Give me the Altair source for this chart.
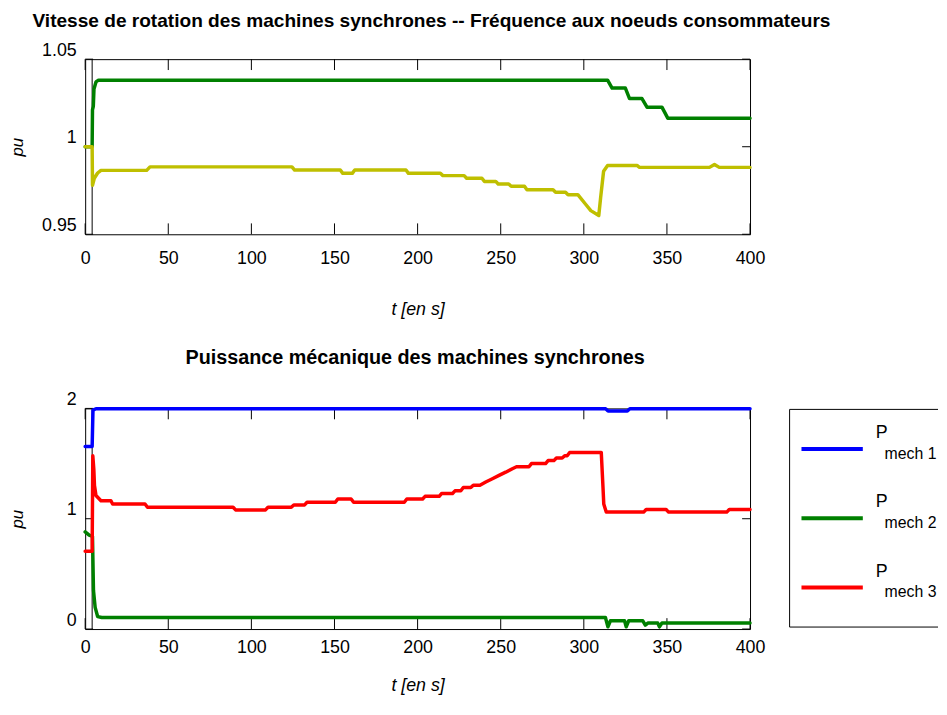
import altair as alt
import pandas as pd

POLICE = "Liberation Sans"

# ---------------- Textes ----------------
titre_haut = "Vitesse de rotation des machines synchrones -- Fréquence aux noeuds consommateurs"
titre_bas = "Puissance mécanique des machines synchrones"
titre_x = "t   [en s]"
titre_y = "pu"

# ---------------- Graduations ----------------
graduations_x = [0, 50, 100, 150, 200, 250, 300, 350, 400]
graduations_y_haut = [0.95, 1, 1.05]
graduations_y_bas = [0, 1, 2]
instant_defaut = [4.2]

# ---------------- Graphique du haut (pu) ----------------
t_vitesse = [0, 4.2, 4.4, 4.9, 5.3, 6.5, 8, 314.3, 317, 325, 327.5, 335, 338, 347, 350.5, 400]
vitesse = [1.0, 1.0, 1.021, 1.023, 1.033, 1.037, 1.038, 1.038, 1.0335, 1.0335, 1.0275, 1.0275,
           1.0226, 1.0226, 1.0163, 1.0163]

t_frequence = [0, 4.2, 4.4, 5.5, 7.5, 9.5, 37, 39, 124.4, 126, 153.5, 155, 160.7, 162.2, 193, 194.5,
               213.7, 215.2, 228, 229.5, 238.7, 240.2, 247, 248.5, 254.8, 256.3, 264.3, 265.8,
               281.5, 283, 289, 290.5, 296.4, 301.2, 304.2, 309, 310.1, 311.9, 314.3, 332, 333.5,
               375.6, 378.6, 381.5, 400]
frequence = [1.0, 1.0, 0.978, 0.982, 0.985, 0.9865, 0.9865, 0.9885, 0.9885, 0.9867, 0.9867, 0.9848,
             0.9848, 0.9867, 0.9867, 0.9848, 0.9848, 0.9835, 0.9835, 0.982, 0.982, 0.9802, 0.9802,
             0.9787, 0.9787, 0.9774, 0.9774, 0.9754, 0.9754, 0.974, 0.974, 0.9726, 0.9726, 0.967,
             0.9635, 0.9607, 0.9708, 0.986, 0.9893, 0.9893, 0.9882, 0.9882, 0.9899, 0.9882, 0.9882]

# ---------------- Graphique du bas (pu) ----------------
t_p1 = [0, 4.2, 4.7, 6.5, 313.1, 314.6, 326.2, 327.7, 400]
p1 = [1.655, 1.655, 1.985, 1.997, 1.997, 1.976, 1.976, 1.997, 1.997]

t_p2 = [0, 2.4, 4.4, 5.0, 6.0, 7.5, 10, 313, 314.5, 316, 324.5, 325.5, 327, 335.5, 337, 338.5,
        344.5, 345.5, 347, 400]
p2 = [0.881, 0.851, 0.84, 0.35, 0.196, 0.113, 0.105, 0.105, 0.02, 0.075, 0.075, 0.02, 0.075,
      0.075, 0.036, 0.054, 0.054, 0.02, 0.054, 0.054]

t_p3 = [0, 4.2, 4.6, 5.2, 5.6, 6.5, 9.5, 15.5, 16.5, 36, 37.5, 89, 90.5, 108.5, 110, 124, 125.5,
        132, 133.5, 150.5, 152, 160, 161.5, 192, 193.5, 203, 204.5, 213, 214.5, 221, 222.5, 226,
        227.5, 232, 233.5, 237.5, 241, 245, 249, 253, 257, 259.5, 267, 268.5, 277, 278.5, 282,
        283.5, 287, 288.5, 290, 291.5, 310.5, 311.5, 312, 313.5, 336, 337.5, 349.5, 351, 386,
        387.5, 400]
p3 = [0.705, 0.705, 1.57, 1.45, 1.30, 1.21, 1.163, 1.163, 1.134, 1.134, 1.104, 1.104, 1.080, 1.080,
      1.104, 1.104, 1.125, 1.125, 1.149, 1.149, 1.179, 1.179, 1.149, 1.149, 1.179, 1.179, 1.203,
      1.203, 1.229, 1.229, 1.253, 1.253, 1.283, 1.283, 1.304, 1.304, 1.333, 1.363, 1.393, 1.422,
      1.453, 1.471, 1.471, 1.5, 1.5, 1.527, 1.527, 1.551, 1.551, 1.571, 1.571, 1.601, 1.601,
      1.297, 1.134, 1.06, 1.06, 1.083, 1.083, 1.06, 1.06, 1.083, 1.083]

series_bas = ["P mech 1", "P mech 2", "P mech 3"]
indices_bas = ["mech 1", "mech 2", "mech 3"]
couleurs_bas = ["#0000FF", "#008000", "#FF0000"]
couleur_vitesse = "#008000"
couleur_frequence = "#BFBF00"

# ---------------- Mise en page ----------------
W = 672
H_HAUT = 177
H_BAS = 223
TICK_X = 11
TICK_Y = 8

echelle_x = alt.Scale(domain=[0, 400], nice=False, zero=False)


def axe_x(label_pad, title_pad):
    return alt.Axis(values=graduations_x, format="~f", title=titre_x, ticks=False, domain=False,
                    grid=False, labelPadding=label_pad, titlePadding=title_pad, labelFlush=False,
                    labelOverlap=False, labelFontSize=18, titleFontSize=18,
                    titleFontStyle="italic", titleFontWeight="normal", labelColor="black",
                    titleColor="black", labelFont=POLICE, titleFont=POLICE)


def axe_y(valeurs, title_pad):
    return alt.Axis(values=valeurs, format="~f", title=titre_y, ticks=False, domain=False,
                    grid=False, labelPadding=9, labelOffset=-9, titlePadding=title_pad,
                    labelFlush=False, labelOverlap=False, labelFontSize=18, titleFontSize=17,
                    titleFontStyle="italic", titleFontWeight="normal", labelColor="black",
                    titleColor="black", labelFont=POLICE, titleFont=POLICE)


def panneau(courbes, grad_y, domaine_y, hauteur, ax_x, ax_y):
    ey = alt.Scale(domain=domaine_y, nice=False, zero=False)
    X = alt.X("t:Q", scale=echelle_x, axis=ax_x)
    Y = alt.Y("v:Q", scale=ey, axis=ax_y)
    couches = []
    # ligne verticale de l'instant du défaut
    couches.append(alt.Chart(pd.DataFrame({"t": instant_defaut})).mark_rule(
        color="black", strokeWidth=1).encode(x=X))
    # graduations intérieures (style MATLAB)
    dgx = pd.DataFrame({"t": graduations_x})
    couches.append(alt.Chart(dgx).mark_rule(color="black", strokeWidth=1).encode(
        x=X, y=alt.value(0), y2=alt.value(TICK_X)))
    couches.append(alt.Chart(dgx).mark_rule(color="black", strokeWidth=1).encode(
        x=X, y=alt.value(hauteur - TICK_X), y2=alt.value(hauteur)))
    dgy = pd.DataFrame({"v": grad_y})
    couches.append(alt.Chart(dgy).mark_rule(color="black", strokeWidth=1).encode(
        y=Y, x=alt.value(0), x2=alt.value(TICK_Y)))
    couches.append(alt.Chart(dgy).mark_rule(color="black", strokeWidth=1).encode(
        y=Y, x=alt.value(W - TICK_Y), x2=alt.value(W)))
    for tt, vv, coul in courbes:
        df = pd.DataFrame({"t": tt, "v": vv, "i": list(range(len(tt)))})
        couches.append(alt.Chart(df).mark_line(color=coul, strokeWidth=3.5,
                                               strokeJoin="round", strokeCap="round").encode(
            x=X, y=Y, order=alt.Order("i:Q")))
    return alt.layer(*couches)


haut = panneau([(t_vitesse, vitesse, couleur_vitesse),
                (t_frequence, frequence, couleur_frequence)],
               graduations_y_haut, [0.95, 1.05], H_HAUT,
               axe_x(16, 33), axe_y(graduations_y_haut, 15)).properties(
    width=W, height=H_HAUT,
    title=alt.TitleParams(text=titre_haut, fontSize=19.3, fontWeight="bold", anchor="middle",
                          frame="group", dx=14, offset=10, font=POLICE, color="black"))

courbes_bas = panneau([(t_p1, p1, couleurs_bas[0]), (t_p2, p2, couleurs_bas[1]),
                       (t_p3, p3, couleurs_bas[2])],
                      graduations_y_bas, [0, 2], H_BAS,
                      axe_x(10, 20), axe_y(graduations_y_bas, 40))

# ---------------- Légende (construite à partir des séries) ----------------
df_leg = pd.DataFrame({"serie": series_bas, "indice": indices_bas, "couleur": couleurs_bas})
y_leg = alt.Y("serie:N", scale=alt.Scale(type="point", domain=series_bas, range=[41, 181],
                                          padding=0), axis=None)
leg_lignes = alt.Chart(df_leg).mark_rule(strokeWidth=4).encode(
    y=y_leg, x=alt.value(724), x2=alt.value(786), color=alt.Color("couleur:N", scale=None))
leg_p = alt.Chart(df_leg).mark_text(align="left", baseline="middle", fontSize=18, dy=-16,
                                    font=POLICE, color="black").encode(
    y=y_leg, x=alt.value(799), text=alt.value("P"))
leg_ind = alt.Chart(df_leg).mark_text(align="left", baseline="middle", fontSize=16, dy=5,
                                      font=POLICE, color="black").encode(
    y=y_leg, x=alt.value(808), text="indice:N")
df_cadre = pd.DataFrame({"k": [0]})
cadre_haut = alt.Chart(df_cadre).mark_rule(color="black", strokeWidth=1).encode(
    x=alt.value(712), x2=alt.value(862), y=alt.value(1))
cadre_bas = alt.Chart(df_cadre).mark_rule(color="black", strokeWidth=1).encode(
    x=alt.value(712), x2=alt.value(862), y=alt.value(221))
cadre_gauche = alt.Chart(df_cadre).mark_rule(color="black", strokeWidth=1).encode(
    x=alt.value(712), y=alt.value(1), y2=alt.value(221))
legende = alt.layer(cadre_haut, cadre_bas, cadre_gauche, leg_lignes, leg_p, leg_ind)

bas = alt.layer(courbes_bas, legende).resolve_scale(y="independent").properties(
    width=W, height=H_BAS,
    title=alt.TitleParams(text=titre_bas, fontSize=20, fontWeight="bold", anchor="middle",
                          frame="group", dx=-2.5, offset=23, font=POLICE, color="black"))

chart = alt.vconcat(haut, bas, spacing=176, bounds="flush").properties(
    padding={"left": 0, "top": 0, "right": 0, "bottom": 0},
    background="white",
).configure_view(stroke="black", strokeWidth=1)

chart.save("out.html", embed_options={"renderer": "svg", "actions": False})
